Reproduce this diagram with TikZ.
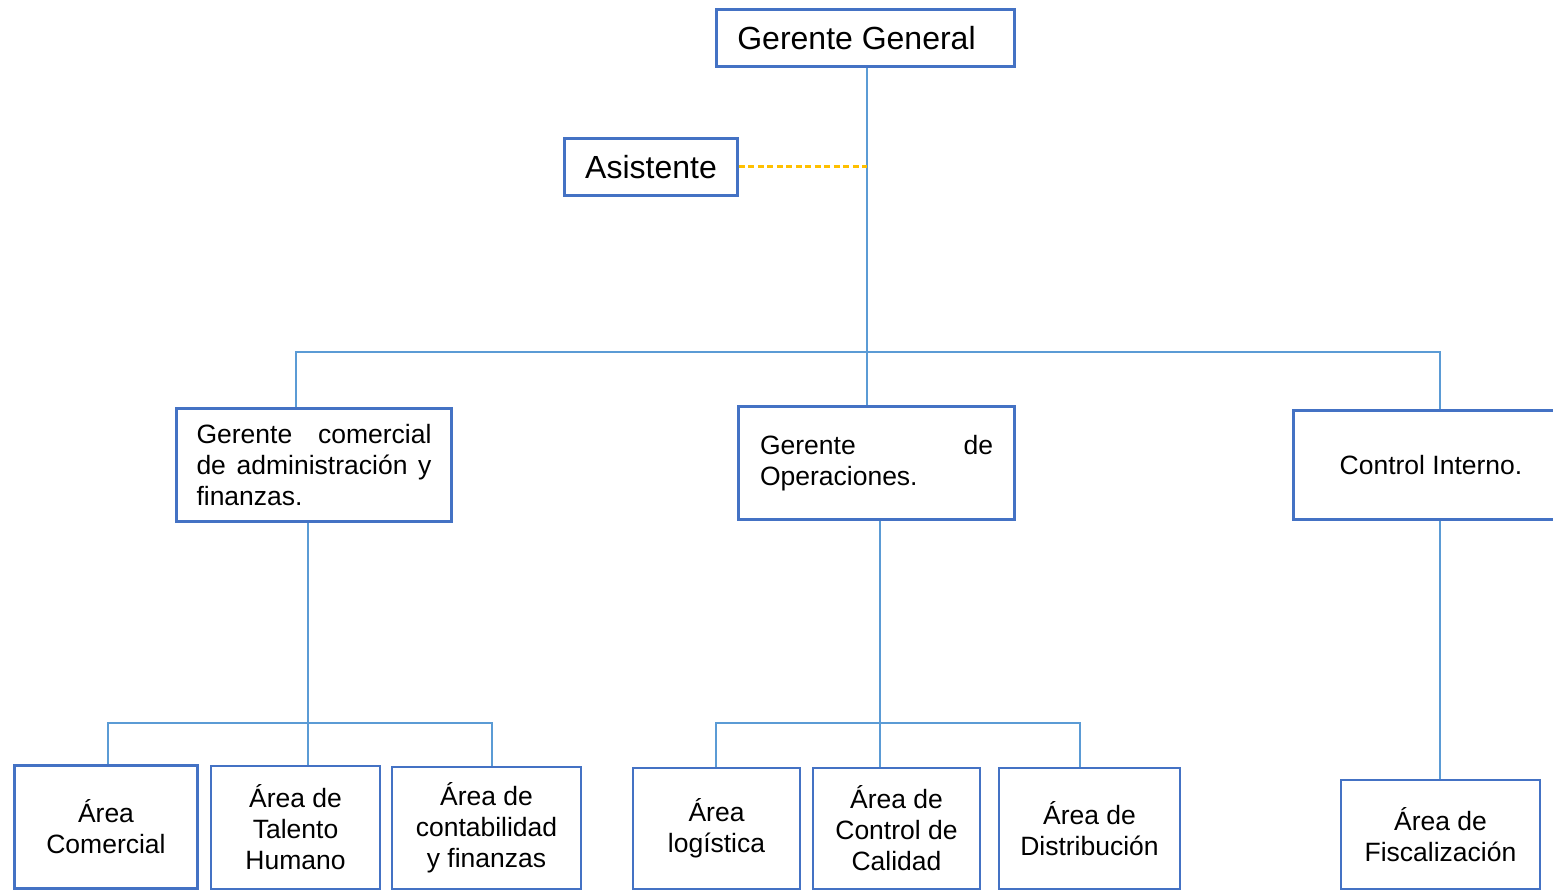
\documentclass[tikz,border=0pt]{standalone}
\usepackage{fontspec}
\setmainfont{Liberation Sans}
\definecolor{boxblue}{HTML}{4472C4}
\definecolor{lineblue}{HTML}{5B9BD5}
\definecolor{dashorange}{HTML}{FFC000}
\begin{document}
\begin{tikzpicture}[x=1pt,y=-1pt,
  box/.style={draw=boxblue,line width=2.6pt,fill=white,inner sep=0pt,align=center,
    font=\fontsize{26.5}{31}\selectfont},
  bigbox/.style={box,font=\fontsize{32}{36}\selectfont},
  conn/.style={draw=lineblue,line width=1.4pt},
  dashconn/.style={draw=dashorange,line width=3pt,dash pattern=on 6pt off 3.5pt}]
\useasboundingbox (0,0) rectangle (1553,891);
% top level
\node[bigbox,minimum width=298pt,minimum height=57pt] (gg) at (865.5,38) {\hspace*{-18pt}Gerente General};
\node[bigbox,minimum width=173pt,minimum height=57pt] (asis) at (651,167) {Asistente};
% second level
\node[box,minimum width=275pt,minimum height=113pt,text width=235pt,align=left] (gcom) at (314,465)
  {Gerente\hfill comercial\\de\hfill administración\hfill y\\finanzas.};
\node[box,minimum width=276pt,minimum height=113pt,text width=233pt,align=left] (ops) at (876.5,463)
  {Gerente\hfill de\\Operaciones.};
\node[box,minimum width=275pt,minimum height=109pt] (ci) at (1431,465) {Control Interno.};
% third level
\node[box,minimum width=183pt,minimum height=123pt] (com) at (106,827) {Área\\Comercial};
\node[box,minimum width=169pt,minimum height=123pt] (tal) at (295.5,827.5) {Área de\\Talento\\Humano};
\node[box,minimum width=189pt,minimum height=122pt] (cont) at (486.5,828) {Área de\\contabilidad\\y finanzas};
\node[box,minimum width=167pt,minimum height=121pt] (log) at (716.5,828.5) {Área\\logística};
\node[box,minimum width=167pt,minimum height=121pt] (cal) at (896.5,828.5) {Área de\\Control de\\Calidad};
\node[box,minimum width=181pt,minimum height=121pt] (dis) at (1089.5,828.5) {Área de\\Distribución};
\node[box,minimum width=199pt,minimum height=109pt] (fis) at (1440.5,834.5) {Área de\\Fiscalización};
% junction coordinates
\coordinate (jtop) at (867,352);
\coordinate (jl) at (296,352);
\coordinate (jr) at (1440,352);
\coordinate (jcom) at (308,723);
\coordinate (jcl) at (108,723);
\coordinate (jcr) at (492,723);
\coordinate (jops) at (880,723);
\coordinate (jol) at (716,723);
\coordinate (jor) at (1080,723);
% connectors
\draw[conn] (gg.south -| jtop) -- (jtop |- ops.north);
\draw[conn] (jl |- gcom.north) -- (jl) -- (jr) -- (jr |- ci.north);
\draw[dashconn] ([yshift=1pt]asis.east) -- ([yshift=1pt]asis.east -| jtop);
\draw[conn] (jcom |- gcom.south) -- (jcom |- tal.north);
\draw[conn] (jcl |- com.north) -- (jcl) -- (jcr) -- (jcr |- cont.north);
\draw[conn] (jops |- ops.south) -- (jops |- cal.north);
\draw[conn] (jol |- log.north) -- (jol) -- (jor) -- (jor |- dis.north);
\draw[conn] (jr |- ci.south) -- (jr |- fis.north);
\end{tikzpicture}
\end{document}
